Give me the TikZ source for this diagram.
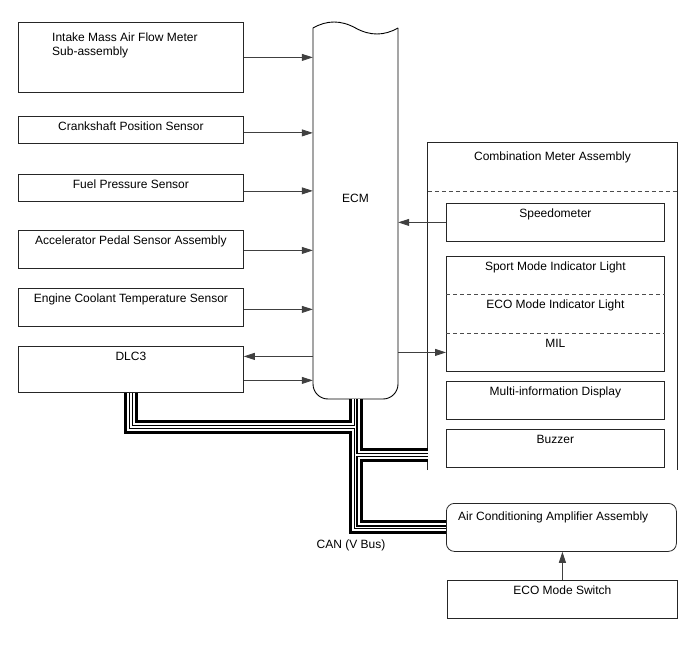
\documentclass[tikz,border=0pt]{standalone}
\usepackage{fontspec}
\setmainfont{Liberation Sans}
\usetikzlibrary{arrows.meta,fit}
\tikzset{>={Triangle[length=11pt,width=7pt]}}
\tikzset{
  unit/.style={draw=black!85, line width=0.8pt, anchor=north west, inner sep=0pt},
  toptext/.style={label={[anchor=north, inner sep=0pt, yshift=-6pt]north:#1}},
  sig/.style={->, draw=black!75, line width=0.8pt},
  sep/.style={draw=black!70, line width=0.8pt, dash pattern=on 4pt off 3pt}
}

\begin{document}
\begin{tikzpicture}[x=1pt, y=-1pt, font=\fontsize{12}{14}\selectfont]
\useasboundingbox (0,0) rectangle (688,658);
% sensors on the left
\node[unit, minimum width=225pt, minimum height=70pt] (intake) at (18,22) {};
\node[anchor=north west, align=left, inner sep=0pt] (intaketext) at (52,33) {Intake Mass Air Flow Meter\\Sub-assembly};
\node[unit, minimum width=225pt, minimum height=27pt, toptext={Crankshaft Position Sensor}] (crank) at (18,116) {};
\node[unit, minimum width=225pt, minimum height=27pt, toptext={Fuel Pressure Sensor}] (fuel) at (18,174) {};
\node[unit, minimum width=225pt, minimum height=38pt, toptext={Accelerator Pedal Sensor Assembly}] (accel) at (18,230) {};
\node[unit, minimum width=225pt, minimum height=38pt, toptext={Engine Coolant Temperature Sensor}] (coolant) at (18,288) {};
\node[unit, minimum width=225pt, minimum height=46pt, toptext={DLC3}] (dlc) at (18,346) {};

% ECM
\coordinate (ecmTL) at (313,28);
\coordinate (ecmBR) at (398,399);
\node[fit=(ecmTL)(ecmBR), inner sep=0pt] (ecm) {};
\draw[line width=0.9pt] (313,28) .. controls (327,20) and (341,20) .. (355.5,28)
  .. controls (370,36) and (384,36) .. (398,28);
\draw[line width=0.9pt] (398,28) -- (398,384) arc[start angle=0, end angle=-90, radius=15pt]
  -- (328,399) arc[start angle=270, end angle=180, radius=15pt] -- (313,28);
\node (ecmtext) at (355.5,198) {ECM};

% combination meter
\coordinate (meterTL) at (428,143);
\coordinate (meterBR) at (677,470);
\node[fit=(meterTL)(meterBR), inner sep=0pt] (meter) {};
\draw[draw=black!85, line width=0.8pt] (meter.south west) |- (meter.north east) -- (meter.south east);
\draw[sep] ([yshift=-49pt]meter.north west) -- ([yshift=-49pt]meter.north east);
\node[anchor=north, inner sep=0pt] (metertitle) at ([yshift=-8.5pt]meter.north) {Combination Meter Assembly};
\node[unit, minimum width=218pt, minimum height=38pt, toptext={Speedometer}] (speedo) at (446,203) {};
\node[unit, draw=none, minimum width=218pt, minimum height=38pt, toptext={Sport Mode Indicator Light}] (sport) at (446,256) {};
\node[unit, draw=none, minimum width=218pt, minimum height=39pt, toptext={ECO Mode Indicator Light}] (eco) at (446,294) {};
\node[unit, draw=none, minimum width=218pt, minimum height=38pt, toptext={MIL}] (mil) at (446,333) {};
\draw[draw=black!85, line width=0.8pt] (sport.north west) rectangle (mil.south east);
\draw[sep] (sport.south west) -- (sport.south east);
\draw[sep] (eco.south west) -- (eco.south east);
\node[unit, minimum width=218pt, minimum height=38pt, toptext={Multi-information Display}] (mid) at (446,381) {};
\node[unit, minimum width=218pt, minimum height=38pt, toptext={Buzzer}] (buzzer) at (446,429) {};

% air conditioning
\node[unit, rounded corners=8pt, minimum width=230pt, minimum height=48pt] (ac) at (446,503) {};
\node[anchor=north west, inner sep=0pt] (actext) at ([xshift=12pt,yshift=-8.5pt]ac.north west) {Air Conditioning Amplifier Assembly};
\node[unit, minimum width=230pt, minimum height=38pt, toptext={ECO Mode Switch}] (ecosw) at (447,580) {};

% signal lines
\foreach \n/\s in {intake/0, crank/-3, fuel/-3, accel/-1, coolant/-2}
  \draw[sig] ([yshift=\s pt]\n.east) -- ([yshift=\s pt]\n.east -| ecm.west);
\draw[sig] ([yshift=13pt]dlc.east -| ecm.west) -- ([yshift=13pt]dlc.east);
\draw[sig] ([yshift=-11pt]dlc.east) -- ([yshift=-11pt]dlc.east -| ecm.west);
\draw[sig] (speedo.west) -- (speedo.west -| ecm.east);
\draw[sig] (mil.west -| ecm.east) -- (mil.west);
\draw[sig] (ecosw.north) -- (ecosw.north |- ac.south);

% CAN bus
\coordinate (jdlc) at (355.5,427);
\coordinate (jmeter) at (355.5,455);
\foreach \w/\c in {14/black, 8/white, 4/black, 1.5/white}{
  \draw[line width=\w pt, draw=\c] (dlc.south) |- (jdlc);
  \draw[line width=\w pt, draw=\c] (ecm.south) |- (ac.west);
  \draw[line width=\w pt, draw=\c] (jmeter) -- (jmeter -| meter.west);
}
\node (can) at (351,545) {CAN (V Bus)};
\end{tikzpicture}
\end{document}
